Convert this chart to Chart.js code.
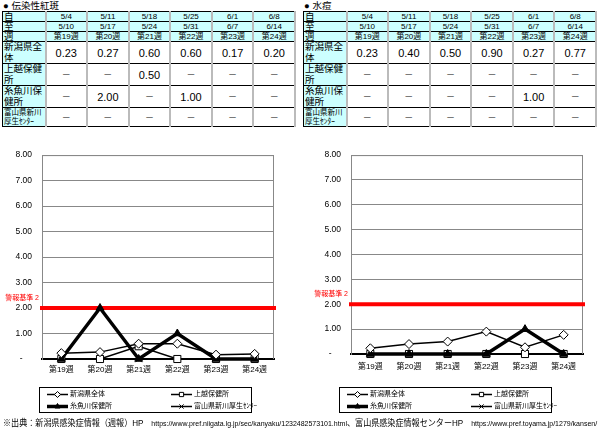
<!DOCTYPE html>
<html>
<head>
<meta charset="utf-8">
<script src="https://cdn.jsdelivr.net/npm/chart.js@4.4.0/dist/chart.umd.min.js"></script>
<style>
body { margin: 0; width: 600px; height: 430px; background: #fff; position: relative; overflow: hidden;
       font-family: "Liberation Sans", "Noto Sans CJK JP", sans-serif; color: #000; }
.panel { position: absolute; top: 0; width: 300px; height: 420px; }
.title { position: absolute; left: 3px; top: 0px; font-size: 9.5px; line-height: 11px; white-space: nowrap; }
table { position: absolute; left: 2px; top: 11px; width: 294px; border-collapse: collapse; table-layout: fixed; }
td { padding: 0; border-top: 1px solid #000; border-bottom: 1px solid #000;
     border-left: 2px solid #bbb; border-right: 2px solid #bbb; text-align: center; overflow: hidden; }
td.lb { background: #ccffff; text-align: left; border-left: 1px solid #000; border-right: 1px solid #000;
        font-size: 9.5px; line-height: 10.5px; padding-left: 1px; }
td.lb.small { font-size: 7.5px; line-height: 9px; }
tr.hd td { background: #ccffff; height: 9px; font-size: 8px; line-height: 9px; }
tr.hd td.lb { font-size: 9.5px; }
td.v { font-size: 11px; }
td.dash { font-size: 9px; color: #333; }
canvas { position: absolute; top: 140px; left: 0; }
.note { position: absolute; left: 3px; top: 417px; font-size: 9px; line-height: 12px; white-space: nowrap; transform-origin: 0 50%; }
.note .u { font-size: 7.8px; }
</style>
</head>
<body>
<div class="panel" style="left:0">
  <div class="title">● 伝染性紅斑</div>
  <table id="tblErythema"></table>
  <canvas id="chartErythema" width="300" height="280"></canvas>
</div>
<div class="panel" style="left:301px">
  <div class="title">● 水痘</div>
  <table id="tblVaricella"></table>
</div>
<canvas id="chartVaricella" width="300" height="280" style="left:300px"></canvas>
<div class="note" id="note">※出典：新潟県感染症情報（週報）HP　<span class="u">https://www.pref.niigata.lg.jp/sec/kanyaku/1232482573101.html</span>、富山県感染症情報センターHP　<span class="u">https://www.pref.toyama.jp/1279/kansen/</span></div>

<script>
// ── DATA ────────────────────────────────────────────────────────────
var WEEKS      = ["第19週", "第20週", "第21週", "第22週", "第23週", "第24週"];
var FROM_DATES = ["5/4", "5/11", "5/18", "5/25", "6/1", "6/8"];
var TO_DATES   = ["5/10", "5/17", "5/24", "5/31", "6/7", "6/14"];
var SERIES_NAMES = ["新潟県全体", "上越保健所", "糸魚川保健所", "富山県新川厚生ｾﾝﾀｰ"];
var TABLE_LABELS = ["新潟県全<br>体", "上越保健<br>所", "糸魚川保<br>健所", "富山県新川<br>厚生ｾﾝﾀｰ"];

// 伝染性紅斑 (0 = "－")
var ERY_NIIGATA   = [0.23, 0.27, 0.60, 0.60, 0.17, 0.20];
var ERY_JOETSU    = [0, 0, 0.50, 0, 0, 0];
var ERY_ITOIGAWA  = [0, 2.00, 0, 1.00, 0, 0];
var ERY_TOYAMA    = [0, 0, 0, 0, 0, 0];

// 水痘
var VAR_NIIGATA   = [0.23, 0.40, 0.50, 0.90, 0.27, 0.77];
var VAR_JOETSU    = [0, 0, 0, 0, 0, 0];
var VAR_ITOIGAWA  = [0, 0, 0, 0, 1.00, 0];
var VAR_TOYAMA    = [0, 0, 0, 0, 0, 0];

var ALERT_LEVEL = 2;
var ALERT_LABEL = "警報基準 2";
var Y_MIN = 0, Y_MAX = 8, Y_STEP = 1;

var FONT = "'Liberation Sans', 'Noto Sans CJK JP', sans-serif";

// ── TABLES ──────────────────────────────────────────────────────────
function fmt(v) { return v === 0 ? "－" : v.toFixed(2); }

function buildTable(id, series) {
    var html = '<colgroup><col style="width:43px">';
    for (var c = 0; c < WEEKS.length; c++) html += '<col>';
    html += '</colgroup>';
    var heads = [["自", FROM_DATES], ["至", TO_DATES], ["週", WEEKS]];
    for (var h = 0; h < heads.length; h++) {
        html += '<tr class="hd"><td class="lb">' + heads[h][0] + '</td>';
        for (var i = 0; i < heads[h][1].length; i++) html += '<td>' + heads[h][1][i] + '</td>';
        html += '</tr>';
    }
    var heights = [22, 21, 21, 19];
    for (var s = 0; s < series.length; s++) {
        html += '<tr style="height:' + heights[s] + 'px"><td class="lb' + (s === 3 ? ' small' : '') + '">' + TABLE_LABELS[s] + '</td>';
        for (var j = 0; j < series[s].length; j++) {
            var v = series[s][j];
            html += '<td class="' + (v === 0 ? 'dash' : 'v') + '">' + fmt(v) + '</td>';
        }
        html += '</tr>';
    }
    document.getElementById(id).innerHTML = html;
}

buildTable("tblErythema", [ERY_NIIGATA, ERY_JOETSU, ERY_ITOIGAWA, ERY_TOYAMA]);
buildTable("tblVaricella", [VAR_NIIGATA, VAR_JOETSU, VAR_ITOIGAWA, VAR_TOYAMA]);

// squeeze the source note onto one line, like the original
var note = document.getElementById("note");
var nw = note.scrollWidth;
if (nw > 594) note.style.transform = "scaleX(" + (594 / nw) + ")";

// ── PLUGIN: frame, alert line, boxed legend ─────────────────────────
var extras = {
    id: "extras",
    beforeDatasetsDraw: function (chart) {
        var a = chart.chartArea, ctx = chart.ctx;
        ctx.save();
        ctx.strokeStyle = "#888";
        ctx.lineWidth = 1;
        ctx.beginPath();
        ctx.moveTo(a.left, a.top + 0.5);
        ctx.lineTo(a.right - 0.5, a.top + 0.5);
        ctx.lineTo(a.right - 0.5, a.bottom);
        ctx.stroke();

        var y = chart.scales.y.getPixelForValue(ALERT_LEVEL);
        ctx.strokeStyle = "#ff0000";
        ctx.lineWidth = 4;
        ctx.beginPath();
        ctx.moveTo(a.left - 2, y);
        ctx.lineTo(a.right + 2, y);
        ctx.stroke();
        ctx.fillStyle = "#ff0000";
        ctx.font = "7px " + FONT;
        ctx.textAlign = "right";
        ctx.textBaseline = "middle";
        ctx.fillText(ALERT_LABEL, a.left - 3, y - 10);
        ctx.restore();
    },
    afterDraw: function (chart) {
        var ctx = chart.ctx;
        ctx.save();
        ctx.strokeStyle = "#000";
        ctx.lineWidth = 1;
        ctx.strokeRect(39.5, 247.5, 212, 25);
        var sets = chart.data.datasets;
        for (var i = 0; i < sets.length; i++) {
            var ds = sets[i];
            var col = i % 2, row = Math.floor(i / 2);
            var x0 = col ? 171 : 47, x1 = x0 + 21, y = row ? 266.5 : 254.5;
            ctx.strokeStyle = "#000";
            ctx.lineWidth = ds.borderWidth;
            ctx.beginPath();
            ctx.moveTo(x0, y);
            ctx.lineTo(x1, y);
            ctx.stroke();
            ctx.lineWidth = 1;
            ctx.fillStyle = ds.pointBackgroundColor;
            Chart.helpers.drawPoint(ctx, { pointStyle: ds.pointStyle, radius: 3, borderWidth: 1, rotation: 0 }, (x0 + x1) / 2, y);
            ctx.fillStyle = "#000";
            ctx.font = "7px " + FONT;
            ctx.textAlign = "left";
            ctx.textBaseline = "middle";
            ctx.fillText(ds.label, x1 + 2, y);
        }
        ctx.restore();
    }
};

// ── CHART ───────────────────────────────────────────────────────────
function makeChart(id, series, pad, yWidth, xHeight, xPad) {
    var styles = [
        { ps: "rectRot",  r: 4.5, bw: 1.5, bg: "#fff", order: 0 },
        { ps: "rect",     r: 5,   bw: 1.5, bg: "#fff", order: 2 },
        { ps: "triangle", r: 4.5, bw: 3.5, bg: "#000", order: 1 },
        { ps: "crossRot", r: 4.5, bw: 1.5, bg: "#000", order: 3 }
    ];
    var datasets = [];
    for (var i = 0; i < series.length; i++) {
        datasets.push({
            label: SERIES_NAMES[i],
            data: series[i],
            borderColor: "#000",
            borderWidth: styles[i].bw,
            pointStyle: styles[i].ps,
            pointRadius: styles[i].r,
            pointBorderWidth: 1,
            pointBorderColor: "#000",
            pointBackgroundColor: styles[i].bg,
            tension: 0,
            order: styles[i].order,
            clip: false
        });
    }
    return new Chart(document.getElementById(id), {
        type: "line",
        data: { labels: WEEKS, datasets: datasets },
        options: {
            responsive: false,
            animation: false,
            layout: { padding: pad },
            plugins: { legend: { display: false }, tooltip: { enabled: false } },
            scales: {
                x: {
                    offset: true,
                    grid: { display: false, drawTicks: false },
                    border: { color: "#000", width: 2 },
                    ticks: { color: "#000", font: { size: 8, family: FONT }, padding: xPad, maxRotation: 0, autoSkip: false },
                    afterFit: function (s) { s.height = xHeight; }
                },
                y: {
                    min: Y_MIN, max: Y_MAX,
                    grid: { color: "#888", drawTicks: false },
                    border: { color: "#888", width: 1 },
                    ticks: {
                        stepSize: Y_STEP, color: "#000", padding: 10,
                        font: { size: 8.5, family: FONT },
                        callback: function (v) { return v === 0 ? "-    " : v.toFixed(2); }
                    },
                    afterFit: function (s) { s.width = yWidth; }
                }
            }
        },
        plugins: [extras]
    });
}

makeChart("chartErythema", [ERY_NIIGATA, ERY_JOETSU, ERY_ITOIGAWA, ERY_TOYAMA],
    { top: 11, right: 26, bottom: 40, left: 0 }, 42, 21, 6);
makeChart("chartVaricella", [VAR_NIIGATA, VAR_JOETSU, VAR_ITOIGAWA, VAR_TOYAMA],
    { top: 15, right: 17, bottom: 40, left: 0 }, 51, 26, 8);
</script>
</body>
</html>
